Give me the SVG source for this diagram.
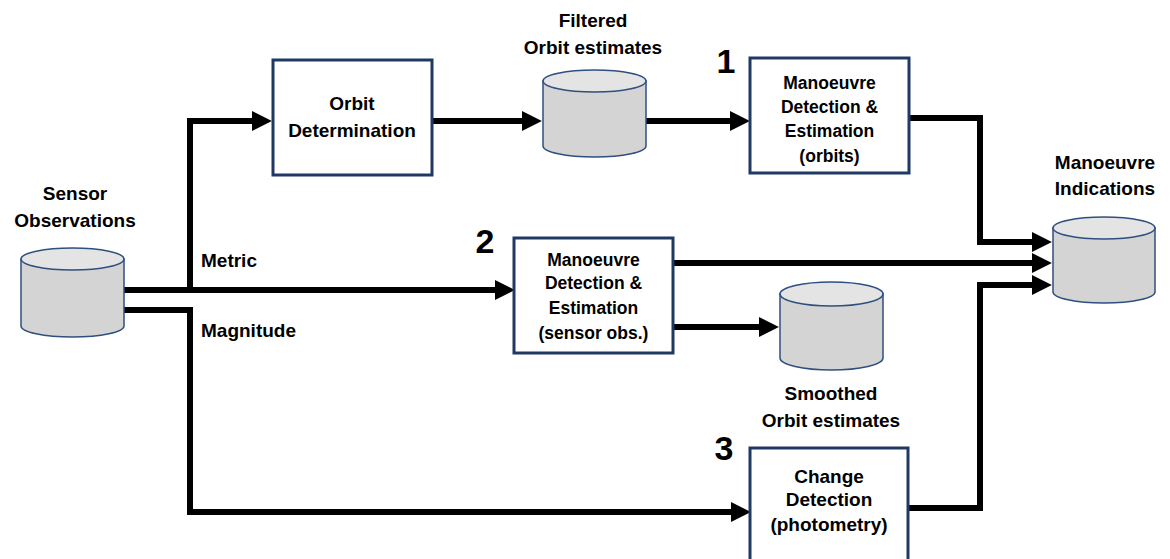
<svg xmlns="http://www.w3.org/2000/svg" width="1170" height="559" viewBox="0 0 1170 559">
<style>
text{font-family:"Liberation Sans",Arial,sans-serif;font-weight:bold;fill:#000;text-anchor:middle}
.lbl{font-size:19px}
.bx{font-size:17.5px}
.bx3{font-size:19px}
.num{font-size:34px}
.box{fill:#fff;stroke:#1f3864;stroke-width:3}
.cyl-body{fill:#d4d4d4;stroke:#2f4f7f;stroke-width:1.5}
.cyl-top{fill:#e4e4e4;stroke:#2f4f7f;stroke-width:1.5}
.conn{fill:none;stroke:#000;stroke-width:6;stroke-linejoin:miter}
</style>
<defs>
<marker id="ah" markerUnits="userSpaceOnUse" markerWidth="20" markerHeight="20" viewBox="0 0 18 18" refX="1" refY="9" orient="auto">
<path d="M0 0 L18 9 L0 18 z" fill="#000"/>
</marker>
</defs>

<g id="connectors">
<path class="conn" d="M124 290 H496" marker-end="url(#ah)"/>
<path class="conn" d="M190 293 V121 H253" marker-end="url(#ah)"/>
<path class="conn" d="M124 310 H190 V512 H732" marker-end="url(#ah)"/>
<path class="conn" d="M432 121 H523" marker-end="url(#ah)"/>
<path class="conn" d="M646 121 H731" marker-end="url(#ah)"/>
<path class="conn" d="M909 118 H980 V242 H1033" marker-end="url(#ah)"/>
<path class="conn" d="M673 263 H1033" marker-end="url(#ah)"/>
<path class="conn" d="M673 327 H760" marker-end="url(#ah)"/>
<path class="conn" d="M908 508 H980 V285 H1033" marker-end="url(#ah)"/>
</g>

<g id="sensor-observations">
<path class="cyl-body" d="M21 259 V326 A51.5 11 0 0 0 124 326 V259 Z"/>
<ellipse class="cyl-top" cx="72.5" cy="259" rx="51.5" ry="11"/>
<text class="lbl" x="75" y="200">Sensor</text>
<text class="lbl" x="75" y="227">Observations</text>
</g>

<g id="labels">
<text class="lbl" x="201" y="267" style="text-anchor:start">Metric</text>
<text class="lbl" x="201" y="337" style="text-anchor:start">Magnitude</text>
</g>

<g id="orbit-determination">
<rect class="box" x="273" y="60" width="159" height="115"/>
<text class="lbl" x="352" y="110">Orbit</text>
<text class="lbl" x="352" y="137">Determination</text>
</g>

<g id="filtered-orbit-estimates">
<path class="cyl-body" d="M543 81 V146 A51.5 11 0 0 0 646 146 V81 Z"/>
<ellipse class="cyl-top" cx="594.5" cy="81" rx="51.5" ry="11"/>
<text class="lbl" x="593" y="27">Filtered</text>
<text class="lbl" x="593" y="54">Orbit estimates</text>
</g>

<g id="md-orbits">
<text class="num" x="726" y="73">1</text>
<rect class="box" x="750" y="58" width="159" height="115"/>
<text class="bx" x="829.5" y="89">Manoeuvre</text>
<text class="bx" x="829.5" y="113">Detection &amp;</text>
<text class="bx" x="829.5" y="137">Estimation</text>
<text class="bx" x="829.5" y="162">(orbits)</text>
</g>

<g id="md-sensor">
<text class="num" x="485" y="253">2</text>
<rect class="box" x="514" y="238" width="159" height="115"/>
<text class="bx" x="593.5" y="266">Manoeuvre</text>
<text class="bx" x="593.5" y="289">Detection &amp;</text>
<text class="bx" x="593.5" y="314">Estimation</text>
<text class="bx" x="593.5" y="339">(sensor obs.)</text>
</g>

<g id="smoothed-orbit-estimates">
<path class="cyl-body" d="M780 294 V358 A51.5 12 0 0 0 883 358 V294 Z"/>
<ellipse class="cyl-top" cx="831.5" cy="294" rx="51.5" ry="12"/>
<text class="lbl" x="831" y="400">Smoothed</text>
<text class="lbl" x="831" y="427">Orbit estimates</text>
</g>

<g id="change-detection">
<text class="num" x="724" y="460">3</text>
<rect class="box" x="750" y="448" width="158" height="130"/>
<text class="bx3" x="829" y="483">Change</text>
<text class="bx3" x="829" y="506">Detection</text>
<text class="bx3" x="829" y="531">(photometry)</text>
</g>

<g id="manoeuvre-indications">
<path class="cyl-body" d="M1053 228 V292 A51 11 0 0 0 1155 292 V228 Z"/>
<ellipse class="cyl-top" cx="1104" cy="228" rx="51" ry="11"/>
<text class="lbl" x="1105" y="169">Manoeuvre</text>
<text class="lbl" x="1105" y="195">Indications</text>
</g>
</svg>
